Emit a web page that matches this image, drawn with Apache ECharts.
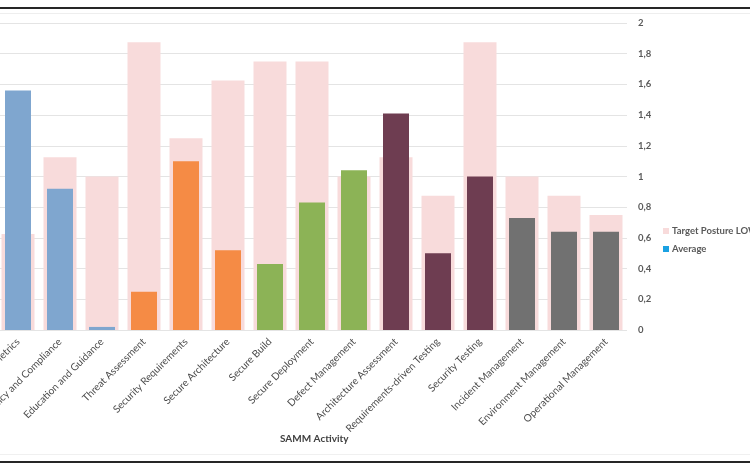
<!DOCTYPE html>
<html>
<head>
<meta charset="utf-8">
<script src="https://cdn.jsdelivr.net/npm/echarts@6/dist/echarts.min.js"></script>
<style>
  html, body { margin: 0; padding: 0; background: #fff; }
  #chart { width: 750px; height: 469px; }
</style>
</head>
<body>
<div id="chart"></div>
<script>
const categories = [
  'Strategy and Metrics', 'Policy and Compliance', 'Education and Guidance',
  'Threat Assessment', 'Security Requirements', 'Secure Architecture',
  'Secure Build', 'Secure Deployment', 'Defect Management',
  'Architecture Assessment', 'Requirements-driven Testing', 'Security Testing',
  'Incident Management', 'Environment Management', 'Operational Management'
]
const targetLow = [0.625, 1.125, 1.0, 1.875, 1.25, 1.625, 1.75, 1.75, 1.0, 1.125, 0.875, 1.875, 1.0, 0.875, 0.75]
const average = [1.56, 0.92, 0.02, 0.25, 1.10, 0.52, 0.43, 0.83, 1.04, 1.41, 0.50, 1.00, 0.73, 0.64, 0.64]
// business function colour per activity (groups of three)
const groupColors = ['#7fa6cf', '#f58b45', '#8cb356', '#6e3d51', '#717171']
const yTicks = { min: 0, max: 2, interval: 0.2 }

const chart = echarts.init(document.getElementById('chart'))
const font = 'Lato, "Open Sans", sans-serif'

const option = {
  animation: false,
  backgroundColor: '#fff',
  textStyle: { fontFamily: font },
  grid: { left: -3, right: 123, top: 23, bottom: 139, containLabel: false, outerBoundsMode: 'none' },
  legend: {
    orient: 'vertical',
    left: 658,
    top: 221,
    itemWidth: 6,
    itemHeight: 6,
    itemGap: 8,
    icon: 'rect',
    textStyle: { color: '#595959', fontSize: 9.5, fontWeight: 'bold', fontFamily: font, padding: [0, 0, 0, -2] },
    data: ['Target Posture LOW', 'Average'],
  },
  xAxis: [
    {
      type: 'category',
      data: categories,
      axisLine: { show: false },
      axisTick: { show: false },
      axisLabel: {
        interval: 0,
        rotate: 45,
        margin: 10,
        color: '#4d4d4d',
        fontSize: 10.2,
        fontFamily: font,
      },
    },
    {
      type: 'category',
      data: categories,
      show: false,
    },
  ],
  yAxis: {
    type: 'value',
    position: 'right',
    min: yTicks.min,
    max: yTicks.max,
    interval: yTicks.interval,
    axisLine: { show: false },
    axisTick: { show: false },
    splitLine: { lineStyle: { color: '#e4e4e4', width: 1 } },
    axisLabel: {
      margin: 11,
      color: '#595959',
      fontSize: 9.5,
      fontWeight: 'bold',
      fontFamily: font,
      formatter: (v) => String(Math.round(v * 10) / 10).replace('.', ','),
    },
  },
  series: [
    {
      name: 'Target Posture LOW',
      type: 'bar',
      xAxisIndex: 0,
      barWidth: 33,
      itemStyle: { color: '#f8dbdb' },
      data: targetLow,
    },
    {
      name: 'Average',
      type: 'bar',
      xAxisIndex: 1,
      barWidth: 26,
      itemStyle: { color: '#1ba1e2' },
      data: average.map((v, i) => ({
        value: v,
        itemStyle: { color: groupColors[Math.floor(i / 3)] },
      })),
    },
  ],
  graphic: [
    { type: 'rect', shape: { x: 0, y: 7, width: 750, height: 2 }, style: { fill: '#262626' } },
    { type: 'rect', shape: { x: 0, y: 13, width: 750, height: 1 }, style: { fill: '#eeeeee' } },
    { type: 'rect', shape: { x: 0, y: 454, width: 750, height: 1 }, style: { fill: '#f0f0f0' } },
    { type: 'rect', shape: { x: 0, y: 461, width: 750, height: 2 }, style: { fill: '#262626' } },
    {
      type: 'text',
      left: 280,
      top: 434,
      style: { text: 'SAMM Activity', fill: '#404040', font: 'bold 10px ' + font },
    },
  ],
}

chart.setOption(option)
</script>
</body>
</html>
